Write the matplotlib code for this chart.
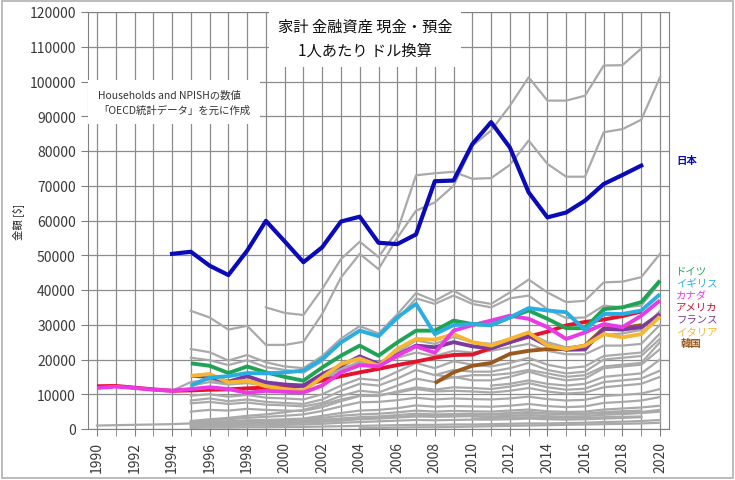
import numpy as np
import matplotlib
matplotlib.use("Agg")
import matplotlib.pyplot as plt
from matplotlib.patches import Rectangle

plt.rcParams['font.family'] = ['Noto Sans CJK JP', 'DejaVu Sans']

# values in thousand dollars, per person
japan_start = 1994
japan = [50.4, 51.0, 47.0, 44.3, 51.3, 59.9, 54.0, 48.0, 52.3, 59.7, 61.1, 53.6, 53.2,
         56.0, 71.3, 71.5, 82.0, 88.3, 81.0, 68.1, 60.9, 62.3, 65.7, 70.5, 73.1, 75.8]
germany_start = 1995
germany = [18.9, 18.2, 16.1, 18.0, 16.3, 15.0, 13.9, 17.7, 21.1, 24.0, 21.1, 24.9, 28.3,
           28.3, 31.2, 30.2, 29.9, 32.1, 34.1, 31.7, 29.0, 29.0, 34.5, 35.0, 36.5, 42.7]
uk_start = 1995
uk = [12.5, 14.8, 15.2, 16.1, 16.0, 16.3, 16.8, 20.1, 24.9, 28.3, 26.7, 32.1, 36.0,
      27.3, 29.9, 30.2, 29.9, 32.1, 34.8, 34.1, 33.6, 28.5, 33.1, 33.1, 34.1, 38.8]
canada_start = 1990
canada = [11.8, 12.2, 11.8, 11.3, 11.0, 11.5, 12.0, 11.5, 10.4, 11.0, 10.7, 10.5, 12.5,
          16.3, 18.4, 18.0, 21.1, 23.8, 21.9, 28.3, 29.9, 31.2, 32.6, 31.7, 29.3, 25.9,
          27.8, 30.2, 29.3, 32.6, 37.0]
usa_start = 1990
usa = [12.3, 12.4, 11.9, 11.4, 11.0, 11.1, 11.3, 11.4, 11.7, 11.9, 12.0, 12.5, 14.0,
       15.2, 16.3, 17.3, 18.4, 19.4, 20.5, 21.3, 21.4, 23.3, 25.0, 26.6, 28.0, 29.8,
       30.8, 31.5, 32.5, 33.8]
france_start = 1995
france = [15.3, 15.0, 13.6, 15.2, 13.4, 12.8, 12.5, 15.8, 18.2, 20.9, 18.7, 21.3, 24.0,
          23.5, 25.0, 23.8, 23.2, 25.0, 26.8, 24.0, 22.8, 22.9, 28.8, 28.6, 29.3, 33.1]
italy_start = 1995
italy = [15.3, 15.8, 13.4, 13.9, 12.3, 11.5, 11.0, 14.9, 18.7, 20.3, 18.2, 23.0, 25.9,
         25.7, 27.3, 25.0, 24.0, 25.9, 27.8, 24.0, 23.0, 24.0, 27.3, 26.4, 27.3, 32.4]
korea_start = 2008
korea = [13.2, 16.3, 18.2, 19.0, 21.6, 22.5, 23.0, 23.0, 24.0, 29.0, 29.0, 29.9]

# other OECD countries (grey), (first year, values)
others = [
    (1995, [34.0, 32.1, 28.6, 29.7, 24.2, 24.2, 25.1, 33.1, 43.6, 50.4, 46.0, 55.0, 62.8,
            65.2, 70.0, 81.5, 85.9, 93.0, 101.2, 94.5, 94.5, 95.9, 104.6, 104.7, 109.5]),
    (1999, [35.0, 33.4, 32.8, 40.3, 48.9, 53.9, 49.5, 57.0, 73.0, 73.6, 74.0, 72.0, 72.2,
            76.0, 83.0, 76.3, 72.6, 72.6, 85.4, 86.3, 89.0, 101.2]),
    (1995, [23.0, 22.1, 19.7, 21.3, 19.2, 18.0, 17.5, 21.0, 26.0, 29.6, 27.5, 33.0, 39.1,
            36.9, 39.8, 36.9, 36.0, 39.3, 43.0, 39.3, 36.5, 36.9, 42.2, 42.4, 43.7, 50.4]),
    (1995, [20.5, 19.8, 18.4, 19.8, 17.8, 17.0, 16.2, 19.5, 25.0, 28.5, 27.0, 31.5, 37.6,
            36.0, 38.4, 36.0, 35.0, 37.6, 38.4, 34.5, 31.9, 32.1, 35.5, 35.0, 35.5, 42.2]),
    (1995, [12.5, 13.5, 12.8, 13.2, 12.5, 12.0, 12.0, 14.0, 17.0, 19.5, 19.0, 22.0, 25.5,
            24.5, 26.5, 25.0, 24.5, 26.0, 27.5, 25.0, 23.5, 24.0, 27.0, 27.5, 28.5, 34.0]),
    (1994, [11.0, 13.5, 14.2, 13.0, 14.0, 12.8, 12.5, 12.3, 14.5, 17.5, 19.0, 18.5, 20.5,
            22.0, 21.0, 22.5, 22.0, 22.5, 23.5, 24.5, 22.5, 21.5, 21.5, 24.0, 24.0, 24.5, 30.0]),
    (1995, [9.6, 10.0, 9.3, 9.8, 9.0, 8.8, 8.5, 10.0, 12.5, 14.5, 14.0, 16.5, 19.0,
            17.5, 19.5, 18.5, 18.0, 19.0, 20.5, 18.5, 17.5, 18.0, 21.0, 21.5, 22.0, 27.5]),
    (1995, [8.2, 8.8, 8.0, 8.5, 7.8, 7.5, 7.2, 8.5, 11.0, 13.0, 12.5, 14.5, 17.0,
            15.5, 17.0, 16.5, 16.5, 17.5, 19.0, 17.0, 16.0, 16.5, 20.0, 20.5, 21.0, 26.0]),
    (1995, [7.4, 7.8, 7.2, 7.6, 7.0, 6.8, 6.5, 7.5, 9.5, 11.0, 10.5, 12.5, 14.5,
            13.5, 15.0, 14.0, 14.0, 15.0, 16.5, 15.0, 14.0, 14.5, 17.5, 18.0, 18.5, 23.0]),
    (2008, [15.6, 14.8, 15.5, 15.5, 16.0, 17.0, 16.0, 15.0, 15.5, 18.0, 18.5, 19.0, 25.0]),
    (2011, [12.5, 13.0, 14.0, 13.0, 12.5, 13.0, 15.0, 15.5, 16.0, 20.0]),
    (1995, [5.0, 5.5, 5.3, 5.8, 5.5, 5.3, 5.2, 6.3, 8.0, 9.5, 9.5, 10.8, 12.0,
            11.3, 12.0, 11.8, 11.5, 12.2, 13.2, 12.0, 11.3, 11.6, 13.5, 14.0, 14.5, 16.8]),
    (1995, [2.3, 2.8, 3.2, 3.8, 4.2, 4.8, 5.5, 7.0, 8.5, 9.6, 9.8, 10.5, 11.5,
            10.8, 11.0, 10.8, 10.5, 11.0, 11.8, 10.8, 10.2, 10.5, 12.0, 12.5, 13.0, 15.0]),
    (1995, [2.0, 2.4, 2.8, 3.2, 3.5, 3.8, 4.2, 5.2, 6.5, 7.7, 7.8, 8.3, 9.0,
            8.5, 8.8, 8.6, 8.5, 8.8, 9.3, 8.6, 8.2, 8.4, 9.5, 9.8, 10.2, 11.5]),
    (1995, [1.8, 2.0, 2.2, 2.5, 2.6, 2.8, 3.0, 3.8, 4.6, 5.3, 5.5, 6.0, 6.8,
            6.4, 6.6, 6.5, 6.4, 6.7, 7.2, 6.6, 6.3, 6.5, 7.5, 7.8, 8.2, 9.2]),
    (1995, [1.5, 1.8, 2.0, 2.3, 2.4, 2.5, 2.7, 3.2, 3.8, 4.2, 4.4, 4.8, 5.3,
            5.0, 5.2, 5.1, 5.0, 5.3, 5.6, 5.1, 4.9, 5.0, 5.6, 5.9, 6.2, 6.7]),
    (1995, [1.2, 1.4, 1.6, 1.8, 1.9, 2.0, 2.2, 2.6, 3.0, 3.4, 3.6, 4.0, 4.4,
            4.2, 4.3, 4.4, 4.3, 4.6, 4.9, 4.5, 4.3, 4.4, 4.9, 5.1, 5.3]),
    (1995, [1.0, 1.2, 1.3, 1.5, 1.6, 1.7, 1.8, 2.1, 2.4, 2.8, 3.0, 3.3, 3.6,
            3.5, 3.6, 3.7, 3.6, 3.8, 4.0, 3.7, 3.6, 3.7, 4.1, 4.3, 4.6, 5.0]),
    (1995, [0.6, 0.8, 0.9, 1.0, 1.1, 1.2, 1.3, 1.5, 1.8, 2.0, 2.2, 2.4, 2.6,
            2.5, 2.6, 2.7, 2.7, 2.8, 3.0, 2.8, 2.7, 2.8, 3.0, 3.2, 3.4]),
    (1990, [1.0, 1.1, 1.2, 1.3, 1.4, 1.6, 1.7, 1.9, 2.1, 2.2, 2.3, 2.4, 2.6, 2.9, 3.1,
            3.3, 3.5, 3.8, 3.9, 4.0, 4.1, 4.2, 4.4, 4.5, 4.4, 4.3, 4.4, 4.6, 4.7, 4.9, 5.5]),
    (1995, [0.3, 0.4, 0.4, 0.5, 0.5, 0.6, 0.6, 0.7, 0.8, 0.9, 1.0, 1.1, 1.2,
            1.2, 1.3, 1.3, 1.4, 1.5, 1.6, 1.6, 1.7, 1.8, 2.0, 2.1, 2.3, 2.6]),
    (2004, [0.2, 0.3, 0.4, 0.5, 0.5, 0.6, 0.7, 0.8, 0.9, 1.0, 1.1, 1.2, 1.3, 1.4, 1.5, 1.6, 1.8]),
    (2010, [3.0, 3.2, 3.3, 3.4, 3.2, 3.1, 3.2, 3.4, 3.5, 3.6]),
]

fig = plt.figure(figsize=(7.35, 4.81), dpi=100)
ax = fig.add_axes([87.6 / 735, 51 / 481, 581.8 / 735, 417 / 481])

def years(start, vals):
    return np.arange(start, start + len(vals))

for start, vals in others:
    ax.plot(years(start, vals), np.array(vals) * 1000, color='#a9a9a9', lw=1.6, zorder=2)

series = [
    (korea_start, korea, '#9a5a1e'),
    (usa_start, usa, '#e3132b'),
    (france_start, france, '#7b3a9e'),
    (italy_start, italy, '#f5b731'),
    (canada_start, canada, '#ea3ae6'),
    (germany_start, germany, '#1fa456'),
    (uk_start, uk, '#2aaee2'),
]
for start, vals, c in series:
    ax.plot(years(start, vals), np.array(vals) * 1000, color=c, lw=2.8, zorder=3,
            solid_capstyle='butt')
ax.plot(years(japan_start, japan), np.array(japan) * 1000, color='#0a0ab8', lw=3.0, zorder=4)

ax.set_xlim(1989.5, 2020.5)
ax.set_ylim(0, 120000)
ax.set_yticks(np.arange(0, 120001, 10000))
ax.set_xticks(np.arange(1990, 2021, 2))
ax.set_xticks(np.arange(1990, 2021, 1), minor=True)
ax.tick_params(axis='x', which='both', direction='out', length=5, color='#808080',
               labelrotation=90, labelsize=10, labelcolor='#3a3a3a')
ax.tick_params(axis='y', direction='out', length=5, color='#808080', labelsize=10,
               labelcolor='#3a3a3a')
ax.grid(True, which='major', axis='y', color='#8c8c8c', lw=0.9, zorder=0)
ax.grid(True, which='both', axis='x', color='#8c8c8c', lw=0.9, zorder=0)
for s in ax.spines.values():
    s.set_color('#808080')
ax.set_axisbelow(True)

ax.set_ylabel('金額 [$]', fontsize=7.5, color='#222222', labelpad=4)

fig.text(365 / 735, 1 - 39 / 481, '家計 金融資産 現金・預金\n1人あたり ドル換算',
         ha='center', va='center', fontsize=11, linespacing=1.5, color='#111111',
         bbox=dict(facecolor='white', edgecolor='none', pad=6))
fig.text(98 / 735, 1 - 103 / 481, 'Households and NPISHの数値\n「OECD統計データ」を元に作成',
         ha='left', va='center', fontsize=7.5, linespacing=1.6, color='#333333',
         bbox=dict(facecolor='white', edgecolor='none', pad=7))

labels = [('日本', '#0a0ab8', 161), ('ドイツ', '#1fa456', 272), ('イギリス', '#2aaee2', 284),
          ('カナダ', '#ea3ae6', 296), ('アメリカ', '#c8102e', 308), ('フランス', '#7b3a9e', 320),
          ('イタリア', '#f5b731', 332), ('韓国', '#9a5a1e', 344)]
for txt, c, ypx in labels:
    xpx = 681 if txt == '韓国' else 676
    fig.text(xpx / 735, 1 - ypx / 481, txt, color=c, fontsize=7.5, ha='left', va='center',
             fontweight='bold' if txt in ('日本', '韓国') else 'normal')

fig.patches.append(Rectangle((2 / 735, 2 / 481), 731 / 735, 477 / 481, transform=fig.transFigure,
                             fill=False, edgecolor='#b0b0b0', lw=1.2))

fig.savefig('out.png', dpi=100)
